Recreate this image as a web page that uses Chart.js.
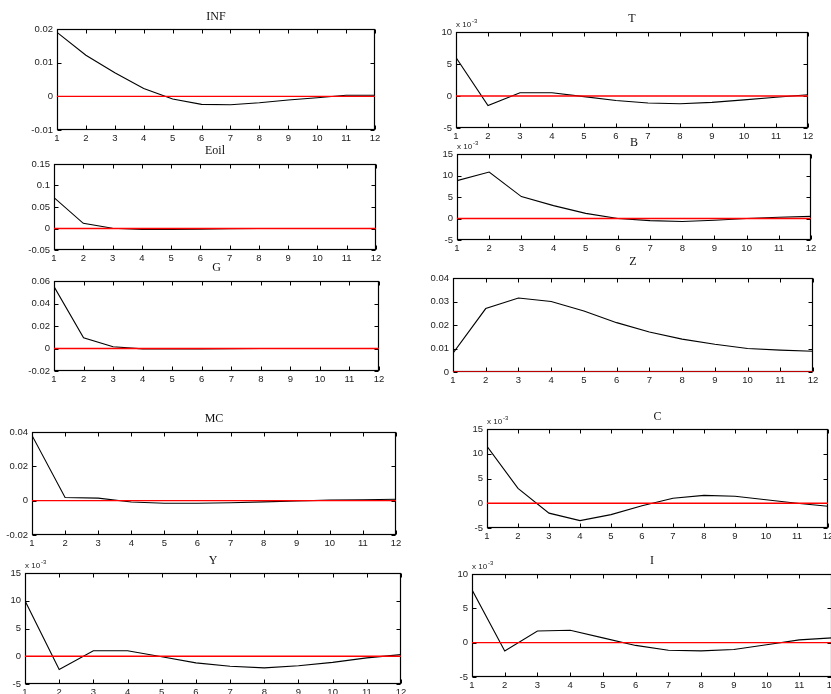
<!DOCTYPE html>
<html>
<head>
<meta charset="utf-8">
<script src="https://cdn.jsdelivr.net/npm/chart.js"></script>
<style>
  html, body { margin: 0; padding: 0; overflow: hidden; background: #fff; width: 831px; height: 694px; }
  .panel { position: absolute; }
</style>
</head>
<body>
<script>
// horizon (periods)
const periods = [1, 2, 3, 4, 5, 6, 7, 8, 9, 10, 11, 12];

// impulse responses
const inf  = [0.019, 0.0122, 0.007, 0.0023, -0.0008, -0.0024, -0.0025, -0.0019, -0.0011, -0.0004, 0.0003, 0.0003];
const eoil = [0.072, 0.012, 0.0005, -0.002, -0.002, -0.0015, -0.0005, 0, 0, 0, 0, 0];
const gov  = [0.055, 0.0095, 0.0015, -0.0003, -0.0005, -0.0004, -0.0002, 0, 0, 0, 0, 0];
const mc   = [0.038, 0.0018, 0.0015, -0.0008, -0.0015, -0.0015, -0.0012, -0.0007, -0.0002, 0.0003, 0.0005, 0.0008];
const zz   = [0.008, 0.027, 0.0315, 0.030, 0.026, 0.021, 0.017, 0.014, 0.0118, 0.010, 0.0093, 0.0088];
// these are in units of 10^-3
const tax  = [6, -1.5, 0.5, 0.5, -0.1, -0.7, -1.1, -1.2, -1.0, -0.6, -0.2, 0.2];
const bond = [8.8, 10.8, 5.1, 3.0, 1.2, 0.0, -0.5, -0.7, -0.4, 0, 0.3, 0.5];
const cons = [11.5, 3, -2, -3.5, -2.3, -0.5, 1, 1.6, 1.4, 0.7, 0, -0.6];
const outp = [10, -2.4, 1, 1, -0.1, -1.2, -1.8, -2.1, -1.7, -1.1, -0.3, 0.3];
const inv  = [7.7, -1.2, 1.7, 1.8, 0.7, -0.4, -1.1, -1.2, -1.0, -0.3, 0.4, 0.7];

const zero = periods.map(() => 0);

// y tick labels
const infTicks  = [-0.01, 0, 0.01, 0.02];
const eoilTicks = [-0.05, 0, 0.05, 0.1, 0.15];
const gTicks    = [-0.02, 0, 0.02, 0.04, 0.06];
const mcTicks   = [-0.02, 0, 0.02, 0.04];
const zTicks    = [0, 0.01, 0.02, 0.03, 0.04];
const t10Ticks  = [-5, 0, 5, 10];
const t15Ticks  = [-5, 0, 5, 10, 15];

const fmt = v => String(Math.round(v * 1e6) / 1e6);

// box with inward ticks (under the lines), then title and exponent note
const frame = {
  id: 'frame',
  beforeDatasetsDraw(chart) {
    const { ctx, chartArea: a, scales: { x, y } } = chart;
    ctx.save();
    ctx.strokeStyle = '#000';
    ctx.lineWidth = 1.2;
    const L = Math.round(a.left) + 0.5, R = Math.round(a.right) - 0.5;
    const T = Math.round(a.top) + 0.5, B = Math.round(a.bottom) - 0.5;
    ctx.strokeRect(L, T, R - L, B - T);
    ctx.lineWidth = 1;
    ctx.beginPath();
    x.ticks.forEach(t => {
      const px = Math.round(x.getPixelForValue(t.value)) + 0.5;
      ctx.moveTo(px, B); ctx.lineTo(px, B - 4);
      ctx.moveTo(px, T); ctx.lineTo(px, T + 4);
    });
    y.ticks.forEach(t => {
      const py = Math.round(y.getPixelForValue(t.value)) + 0.5;
      ctx.moveTo(L, py); ctx.lineTo(L + 4, py);
      ctx.moveTo(R, py); ctx.lineTo(R - 4, py);
    });
    ctx.stroke();
    ctx.restore();
  },
  afterDraw(chart, args, o) {
    const { ctx, chartArea: a } = chart;
    ctx.save();
    ctx.fillStyle = '#111';
    ctx.font = '12px "Liberation Serif"';
    ctx.textAlign = 'center';
    ctx.textBaseline = 'middle';
    ctx.fillText(o.title, (a.left + a.right) / 2, o.titleY);

    if (o.exp) {
      ctx.fillStyle = '#222';
      ctx.textAlign = 'left';
      ctx.textBaseline = 'alphabetic';
      ctx.font = '8px "Liberation Sans"';
      ctx.fillText('x 10', a.left, a.top - 5);
      const w = ctx.measureText('x 10').width;
      ctx.font = '6px "Liberation Sans"';
      ctx.fillText('-3', a.left + w + 1, a.top - 9);
    }
    ctx.restore();
  }
};

const PADL = 40, PADT = 30, PADR = 12, PADB = 18;

function panel(title, values, yTicks, exp, l, t, r, b, titleY) {
  const div = document.createElement('div');
  div.className = 'panel';
  const w = (r - l) + PADL + PADR, h = (b - t) + PADT + PADB;
  div.style.left = (l - PADL) + 'px';
  div.style.top = (t - PADT) + 'px';
  div.style.width = w + 'px';
  div.style.height = h + 'px';
  const cv = document.createElement('canvas');
  cv.width = w; cv.height = h;
  div.appendChild(cv);
  document.body.appendChild(div);

  new Chart(cv, {
    type: 'line',
    data: {
      datasets: [
        {
          data: periods.map((p, i) => ({ x: p, y: zero[i] })),
          borderColor: '#ff0000',
          borderWidth: 1.3,
          pointRadius: 0,
        },
        {
          data: periods.map((p, i) => ({ x: p, y: values[i] })),
          borderColor: '#000',
          borderWidth: 1.1,
          pointRadius: 0,
        },
      ],
    },
    options: {
      responsive: false,
      animation: false,
      devicePixelRatio: 1,
      layout: { padding: { left: 0, top: PADT, right: PADR, bottom: 0 } },
      plugins: {
        legend: { display: false },
        tooltip: { enabled: false },
        frame: { title: title, titleY: titleY - (t - PADT), exp: exp },
      },
      scales: {
        x: {
          type: 'linear',
          min: 1,
          max: 12,
          afterFit: s => { s.height = PADB; },
          grid: { display: false, drawTicks: false },
          border: { display: false },
          ticks: {
            stepSize: 1,
            padding: 3,
            maxRotation: 0,
            autoSkip: false,
            color: '#222',
            font: { family: 'Liberation Sans', size: 9.5 },
          },
        },
        y: {
          min: yTicks[0],
          max: yTicks[yTicks.length - 1],
          afterBuildTicks: s => { s.ticks = yTicks.map(v => ({ value: v })); },
          afterFit: s => { s.width = PADL; },
          grid: { display: false, drawTicks: false },
          border: { display: false },
          ticks: {
            padding: 4,
            color: '#222',
            font: { family: 'Liberation Sans', size: 9.5 },
            callback: v => fmt(v),
          },
        },
      },
    },
    plugins: [frame],
  });
}

panel('INF',  inf,  infTicks,  false, 57, 29, 375, 130, 17);
panel('T',    tax,  t10Ticks,  true, 456, 32, 808, 128, 19);
panel('Eoil', eoil, eoilTicks, false, 54, 164, 376, 250, 151);
panel('B',    bond, t15Ticks,  true, 457, 154, 811, 240, 143);
panel('G',    gov,  gTicks,    false, 54, 281, 379, 371, 268);
panel('Z',    zz,   zTicks,    false, 453, 278, 813, 372, 262);
panel('MC',   mc,   mcTicks,   false, 32, 432, 396, 535, 419);
panel('C',    cons, t15Ticks,  true, 487, 429, 828, 528, 417);
panel('Y',    outp, t15Ticks,  true, 25, 573, 401, 684, 561);
panel('I',    inv,  t10Ticks,  true, 472, 574, 832, 677, 561);
</script>
</body>
</html>
